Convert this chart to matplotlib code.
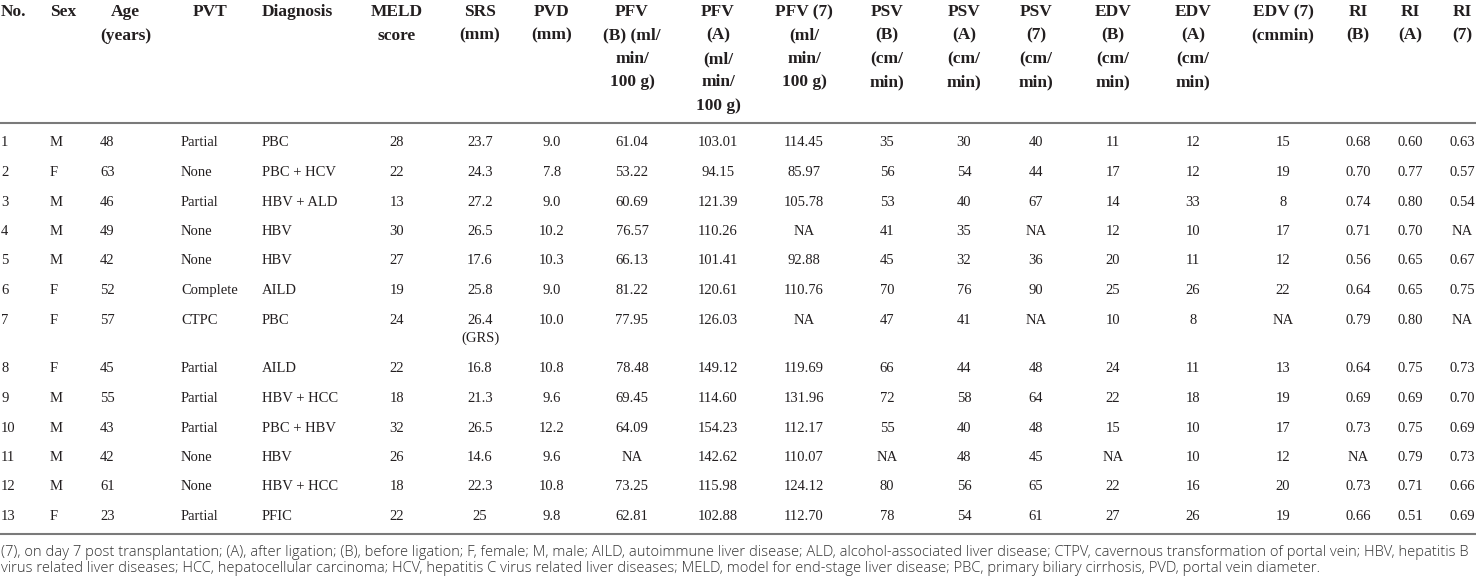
import matplotlib
matplotlib.use("Agg")
import matplotlib.pyplot as plt

# table data, one list per column
headers = ["No.", "Sex", "Age\n(years)", "PVT", "Diagnosis", "MELD\nscore",
           "SRS\n(mm)", "PVD\n(mm)", "PFV\n(B) (ml/\nmin/\n100 g)",
           "PFV\n(A)\n(ml/\nmin/\n100 g)", "PFV (7)\n(ml/\nmin/\n100 g)",
           "PSV\n(B)\n(cm/\nmin)", "PSV\n(A)\n(cm/\nmin)", "PSV\n(7)\n(cm/\nmin)",
           "EDV\n(B)\n(cm/\nmin)", "EDV\n(A)\n(cm/\nmin)", "EDV (7)\n(cmmin)",
           "RI\n(B)", "RI\n(A)", "RI\n(7)"]

no = ["1", "2", "3", "4", "5", "6", "7", "8", "9", "10", "11", "12", "13"]
sex = ["M", "F", "M", "M", "M", "F", "F", "F", "M", "M", "M", "M", "F"]
age = [48, 63, 46, 49, 42, 52, 57, 45, 55, 43, 42, 61, 23]
pvt = ["Partial", "None", "Partial", "None", "None", "Complete", "CTPC",
       "Partial", "Partial", "Partial", "None", "None", "Partial"]
diagnosis = ["PBC", "PBC + HCV", "HBV + ALD", "HBV", "HBV", "AILD", "PBC",
             "AILD", "HBV + HCC", "PBC + HBV", "HBV", "HBV + HCC", "PFIC"]
meld = [28, 22, 13, 30, 27, 19, 24, 22, 18, 32, 26, 18, 22]
srs = ["23.7", "24.3", "27.2", "26.5", "17.6", "25.8", "26.4\n(GRS)", "16.8",
       "21.3", "26.5", "14.6", "22.3", "25"]
pvd = ["9.0", "7.8", "9.0", "10.2", "10.3", "9.0", "10.0", "10.8", "9.6",
       "12.2", "9.6", "10.8", "9.8"]
pfv_b = ["61.04", "53.22", "60.69", "76.57", "66.13", "81.22", "77.95",
         "78.48", "69.45", "64.09", "NA", "73.25", "62.81"]
pfv_a = ["103.01", "94.15", "121.39", "110.26", "101.41", "120.61", "126.03",
         "149.12", "114.60", "154.23", "142.62", "115.98", "102.88"]
pfv_7 = ["114.45", "85.97", "105.78", "NA", "92.88", "110.76", "NA",
         "119.69", "131.96", "112.17", "110.07", "124.12", "112.70"]
psv_b = [35, 56, 53, 41, 45, 70, 47, 66, 72, 55, "NA", 80, 78]
psv_a = [30, 54, 40, 35, 32, 76, 41, 44, 58, 40, 48, 56, 54]
psv_7 = [40, 44, 67, "NA", 36, 90, "NA", 48, 64, 48, 45, 65, 61]
edv_b = [11, 17, 14, 12, 20, 25, 10, 24, 22, 15, "NA", 22, 27]
edv_a = [12, 12, 33, 10, 11, 26, 8, 11, 18, 10, 10, 16, 26]
edv_7 = [15, 19, 8, 17, 12, 22, "NA", 13, 19, 17, 12, 20, 19]
ri_b = ["0.68", "0.70", "0.74", "0.71", "0.56", "0.64", "0.79", "0.64",
        "0.69", "0.73", "NA", "0.73", "0.66"]
ri_a = ["0.60", "0.77", "0.80", "0.70", "0.65", "0.65", "0.80", "0.75",
        "0.69", "0.75", "0.79", "0.71", "0.51"]
ri_7 = ["0.63", "0.57", "0.54", "NA", "0.67", "0.75", "NA", "0.73", "0.70",
        "0.69", "0.73", "0.66", "0.69"]

columns = [no, sex, age, pvt, diagnosis, meld, srs, pvd, pfv_b, pfv_a, pfv_7,
           psv_b, psv_a, psv_7, edv_b, edv_a, edv_7, ri_b, ri_a, ri_7]

footnote = ["(7), on day 7 post transplantation; (A), after ligation; (B), before ligation; "
            "F, female; M, male; AILD, autoimmune liver disease; ALD, alcohol-associated liver "
            "disease; CTPV, cavernous transformation of portal vein; HBV, hepatitis B",
            "virus related liver diseases; HCC, hepatocellular carcinoma; HCV, hepatitis C virus "
            "related liver diseases; MELD, model for end-stage liver disease; PBC, primary biliary "
            "cirrhosis, PVD, portal vein diameter."]

# layout (pixels)
W, H = 1476, 583
col_x = [1, 50, 100, 181, 262, 397, 480, 552, 632, 718, 804, 887, 964, 1036,
         1113, 1193, 1283, 1358, 1410, 1462]
head_x = list(col_x)
head_x[3] = 193
n_left = 5          # first five columns are left aligned
row_y = [143, 172.5, 202, 231.5, 261, 290.5, 320, 369, 398.5, 428, 457.5, 487, 516.5]
sub_dy = 18         # second line inside a body cell
head_y0, head_dy = 12, 23.5
rule_top, rule_bot = 123, 534

serif = "Liberation Serif"
txt_col = "#231f20"
body_fs, head_fs = 10.5, 12.5

fig = plt.figure(figsize=(W / 100, H / 100), dpi=100)
ax = fig.add_axes([0, 0, 1, 1])
ax.set_xlim(0, W)
ax.set_ylim(H, 0)
ax.axis("off")
renderer = fig.canvas.get_renderer()


def text_width(s, **kw):
    t = ax.text(0, 0, s, **kw)
    w = t.get_window_extent(renderer=renderer).width
    t.remove()
    return w


# header
for j, h in enumerate(headers):
    lines = h.split("\n")
    kw = dict(fontfamily=serif, fontsize=head_fs, fontweight="bold", color=txt_col)
    if j < n_left:
        wmax = max(text_width(s, **kw) for s in lines)
        x = head_x[j] + wmax / 2
    else:
        x = head_x[j]
    for i, s in enumerate(lines):
        ax.text(x, head_y0 + i * head_dy, s, ha="center", va="center", **kw)

# body
for j, col in enumerate(columns):
    ha = "left" if j < n_left else "center"
    for i, v in enumerate(col):
        for k, s in enumerate(str(v).split("\n")):
            ax.text(col_x[j], row_y[i] + k * sub_dy, s, ha=ha, va="center",
                    fontfamily=serif, fontsize=body_fs, color=txt_col)

# rules
for y in (rule_top, rule_bot):
    ax.plot([0, W], [y, y], color="#7a7a7a", lw=1.5, solid_capstyle="butt")

# footnote, sized to fill the width
fkw = dict(fontfamily=["Open Sans", "DejaVu Sans"], fontweight="light", color="#333333")
w10 = text_width(footnote[0], fontsize=10, **fkw)
foot_fs = 10 * 1472 / w10
for i, s in enumerate(footnote):
    ax.text(1, 552 + i * 16.5, s, ha="left", va="center", fontsize=foot_fs, **fkw)

fig.savefig("out.png", dpi=100)
